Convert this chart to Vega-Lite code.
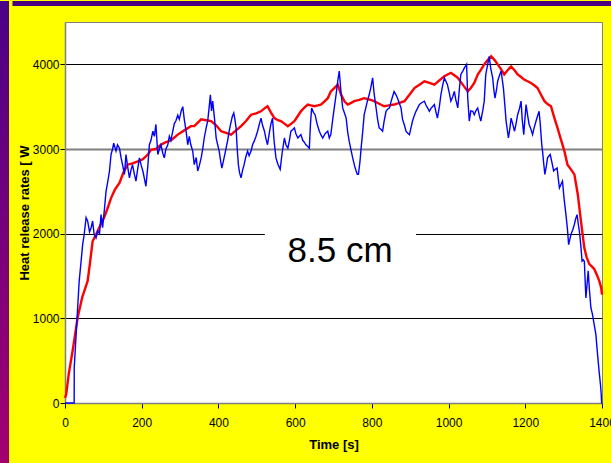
{
  "$schema": "https://vega.github.io/schema/vega-lite/v6.json",
  "padding": 0,
  "background": "#FFFF00",
  "spacing": 0,
  "config": {
    "view": {"stroke": null},
    "axis": {
      "labelFont": "Liberation Sans, Arial",
      "labelFontSize": 12,
      "labelColor": "#000000",
      "titleFont": "Liberation Sans, Arial",
      "titleFontSize": 13,
      "titleFontWeight": "bold",
      "titleColor": "#000000",
      "domainColor": "#808080",
      "domainWidth": 1.5,
      "tickColor": "#000000",
      "tickSize": 5
    }
  },
  "datasets": {
    "red": [
      {"t":0,"v":60},{"t":3,"v":100},{"t":10,"v":350},{"t":20,"v":620},{"t":29,"v":890},{"t":33,"v":1010},{"t":45,"v":1250},{"t":59,"v":1440},{"t":65,"v":1650},{"t":72,"v":1910},{"t":81,"v":1990},{"t":92,"v":2100},{"t":102,"v":2190},{"t":111,"v":2300},{"t":120,"v":2420},{"t":130,"v":2520},{"t":142,"v":2600},{"t":152,"v":2720},{"t":163,"v":2815},{"t":176,"v":2830},{"t":190,"v":2855},{"t":203,"v":2880},{"t":216,"v":2935},{"t":224,"v":2990},{"t":237,"v":3000},{"t":250,"v":3050},{"t":263,"v":3080},{"t":276,"v":3100},{"t":294,"v":3170},{"t":311,"v":3220},{"t":328,"v":3270},{"t":337,"v":3270},{"t":355,"v":3350},{"t":368,"v":3340},{"t":381,"v":3330},{"t":394,"v":3280},{"t":407,"v":3210},{"t":420,"v":3190},{"t":433,"v":3170},{"t":446,"v":3220},{"t":459,"v":3270},{"t":472,"v":3330},{"t":485,"v":3405},{"t":498,"v":3420},{"t":511,"v":3445},{"t":520,"v":3480},{"t":528,"v":3505},{"t":537,"v":3430},{"t":546,"v":3365},{"t":555,"v":3340},{"t":563,"v":3330},{"t":572,"v":3300},{"t":581,"v":3270},{"t":590,"v":3300},{"t":598,"v":3330},{"t":607,"v":3390},{"t":615,"v":3445},{"t":624,"v":3490},{"t":633,"v":3525},{"t":641,"v":3515},{"t":650,"v":3505},{"t":659,"v":3515},{"t":667,"v":3525},{"t":676,"v":3560},{"t":685,"v":3600},{"t":693,"v":3680},{"t":702,"v":3720},{"t":711,"v":3760},{"t":720,"v":3640},{"t":729,"v":3560},{"t":737,"v":3525},{"t":746,"v":3545},{"t":754,"v":3565},{"t":767,"v":3580},{"t":780,"v":3600},{"t":793,"v":3585},{"t":806,"v":3565},{"t":819,"v":3535},{"t":832,"v":3505},{"t":845,"v":3515},{"t":858,"v":3525},{"t":872,"v":3545},{"t":885,"v":3565},{"t":898,"v":3640},{"t":911,"v":3720},{"t":924,"v":3760},{"t":937,"v":3800},{"t":950,"v":3780},{"t":963,"v":3760},{"t":976,"v":3810},{"t":989,"v":3860},{"t":1006,"v":3900},{"t":1015,"v":3870},{"t":1024,"v":3840},{"t":1037,"v":3760},{"t":1050,"v":3680},{"t":1058,"v":3720},{"t":1067,"v":3780},{"t":1076,"v":3880},{"t":1085,"v":3940},{"t":1093,"v":4000},{"t":1102,"v":4050},{"t":1111,"v":4095},{"t":1120,"v":4050},{"t":1128,"v":4000},{"t":1137,"v":3940},{"t":1145,"v":3880},{"t":1154,"v":3930},{"t":1163,"v":3975},{"t":1172,"v":3930},{"t":1180,"v":3880},{"t":1189,"v":3850},{"t":1197,"v":3820},{"t":1206,"v":3800},{"t":1215,"v":3780},{"t":1224,"v":3750},{"t":1232,"v":3720},{"t":1241,"v":3640},{"t":1250,"v":3565},{"t":1258,"v":3530},{"t":1267,"v":3505},{"t":1275,"v":3380},{"t":1284,"v":3250},{"t":1293,"v":3110},{"t":1302,"v":2975},{"t":1310,"v":2815},{"t":1319,"v":2760},{"t":1328,"v":2700},{"t":1337,"v":2460},{"t":1345,"v":2150},{"t":1354,"v":1830},{"t":1360,"v":1720},{"t":1367,"v":1640},{"t":1374,"v":1610},{"t":1380,"v":1580},{"t":1387,"v":1510},{"t":1393,"v":1440},{"t":1398,"v":1360},{"t":1400,"v":1280}
    ],
    "blue": [
      {"t":0,"v":0},{"t":23.9,"v":0},{"t":24.1,"v":417},{"t":29,"v":810},{"t":33,"v":1125},{"t":37,"v":1440},{"t":42,"v":1675},{"t":46,"v":1870},{"t":50,"v":1990},{"t":55,"v":2190},{"t":59,"v":2150},{"t":64,"v":2020},{"t":68,"v":2070},{"t":72,"v":2150},{"t":76,"v":1990},{"t":81,"v":1950},{"t":85,"v":2030},{"t":90,"v":2000},{"t":94,"v":2225},{"t":98,"v":2070},{"t":103,"v":2300},{"t":107,"v":2500},{"t":111,"v":2600},{"t":116,"v":2740},{"t":120,"v":2935},{"t":124,"v":3000},{"t":127,"v":3070},{"t":133,"v":2975},{"t":137,"v":3050},{"t":142,"v":3010},{"t":146,"v":2900},{"t":150,"v":2815},{"t":155,"v":2700},{"t":159,"v":2935},{"t":163,"v":2800},{"t":168,"v":2660},{"t":172,"v":2750},{"t":176,"v":2815},{"t":181,"v":2700},{"t":185,"v":2620},{"t":190,"v":2780},{"t":194,"v":2895},{"t":199,"v":2800},{"t":203,"v":2740},{"t":207,"v":2650},{"t":211,"v":2560},{"t":216,"v":2800},{"t":220,"v":3050},{"t":224,"v":3100},{"t":229,"v":3210},{"t":233,"v":3150},{"t":237,"v":3290},{"t":242,"v":2935},{"t":246,"v":3000},{"t":250,"v":3050},{"t":255,"v":2950},{"t":259,"v":2895},{"t":263,"v":3000},{"t":268,"v":3050},{"t":272,"v":3150},{"t":276,"v":3100},{"t":281,"v":3210},{"t":285,"v":3300},{"t":289,"v":3330},{"t":294,"v":3400},{"t":298,"v":3350},{"t":303,"v":3450},{"t":307,"v":3500},{"t":311,"v":3350},{"t":316,"v":3200},{"t":320,"v":3050},{"t":324,"v":3150},{"t":328,"v":3050},{"t":333,"v":2975},{"t":337,"v":2815},{"t":342,"v":2900},{"t":346,"v":2740},{"t":350,"v":2800},{"t":355,"v":2895},{"t":359,"v":3000},{"t":363,"v":3130},{"t":368,"v":3250},{"t":372,"v":3330},{"t":376,"v":3500},{"t":379,"v":3640},{"t":382,"v":3450},{"t":385,"v":3565},{"t":390,"v":3350},{"t":394,"v":3130},{"t":398,"v":3050},{"t":402,"v":2975},{"t":406,"v":2850},{"t":409,"v":2775},{"t":415,"v":2900},{"t":420,"v":3010},{"t":424,"v":3100},{"t":428,"v":3210},{"t":432,"v":3300},{"t":436,"v":3380},{"t":440,"v":3425},{"t":443,"v":3350},{"t":446,"v":3250},{"t":449,"v":3000},{"t":452,"v":2815},{"t":455,"v":2720},{"t":459,"v":2660},{"t":463,"v":2750},{"t":467,"v":2815},{"t":471,"v":2900},{"t":476,"v":2975},{"t":480,"v":2920},{"t":485,"v":2975},{"t":489,"v":3050},{"t":493,"v":3090},{"t":498,"v":3150},{"t":502,"v":3210},{"t":507,"v":3300},{"t":511,"v":3365},{"t":515,"v":3280},{"t":520,"v":3210},{"t":524,"v":3120},{"t":528,"v":3050},{"t":533,"v":3200},{"t":537,"v":3300},{"t":541,"v":3365},{"t":545,"v":3100},{"t":550,"v":2895},{"t":555,"v":2820},{"t":561,"v":2760},{"t":566,"v":2950},{"t":572,"v":3130},{"t":576,"v":3050},{"t":581,"v":3010},{"t":585,"v":3100},{"t":589,"v":3210},{"t":594,"v":3230},{"t":598,"v":3250},{"t":602,"v":3180},{"t":607,"v":3130},{"t":611,"v":3150},{"t":615,"v":3170},{"t":620,"v":3100},{"t":624,"v":3080},{"t":628,"v":3050},{"t":633,"v":3030},{"t":637,"v":3010},{"t":640,"v":3300},{"t":643,"v":3485},{"t":648,"v":3430},{"t":652,"v":3405},{"t":657,"v":3300},{"t":663,"v":3210},{"t":668,"v":3160},{"t":672,"v":3130},{"t":678,"v":3180},{"t":685,"v":3210},{"t":689,"v":3130},{"t":693,"v":3170},{"t":698,"v":3350},{"t":702,"v":3485},{"t":707,"v":3650},{"t":711,"v":3800},{"t":715,"v":3920},{"t":720,"v":3650},{"t":724,"v":3485},{"t":729,"v":3420},{"t":733,"v":3365},{"t":737,"v":3200},{"t":741,"v":3090},{"t":746,"v":2980},{"t":750,"v":2895},{"t":755,"v":2800},{"t":759,"v":2740},{"t":762,"v":2700},{"t":765,"v":2700},{"t":769,"v":2850},{"t":772,"v":3010},{"t":776,"v":3200},{"t":780,"v":3405},{"t":785,"v":3500},{"t":789,"v":3580},{"t":793,"v":3640},{"t":797,"v":3720},{"t":802,"v":3840},{"t":806,"v":3650},{"t":811,"v":3485},{"t":815,"v":3350},{"t":819,"v":3250},{"t":824,"v":3230},{"t":828,"v":3210},{"t":832,"v":3330},{"t":837,"v":3445},{"t":841,"v":3470},{"t":846,"v":3485},{"t":850,"v":3560},{"t":854,"v":3620},{"t":858,"v":3680},{"t":863,"v":3640},{"t":867,"v":3600},{"t":871,"v":3550},{"t":876,"v":3485},{"t":880,"v":3350},{"t":885,"v":3280},{"t":889,"v":3210},{"t":893,"v":3190},{"t":898,"v":3170},{"t":902,"v":3250},{"t":906,"v":3330},{"t":911,"v":3400},{"t":915,"v":3445},{"t":919,"v":3480},{"t":924,"v":3525},{"t":928,"v":3540},{"t":933,"v":3555},{"t":937,"v":3565},{"t":941,"v":3520},{"t":946,"v":3480},{"t":950,"v":3445},{"t":954,"v":3480},{"t":958,"v":3500},{"t":963,"v":3525},{"t":967,"v":3440},{"t":971,"v":3365},{"t":976,"v":3500},{"t":980,"v":3640},{"t":984,"v":3740},{"t":989,"v":3840},{"t":993,"v":3800},{"t":997,"v":3760},{"t":1002,"v":3660},{"t":1006,"v":3565},{"t":1011,"v":3620},{"t":1015,"v":3680},{"t":1019,"v":3580},{"t":1024,"v":3485},{"t":1028,"v":3700},{"t":1032,"v":3880},{"t":1037,"v":3920},{"t":1041,"v":3955},{"t":1047,"v":4000},{"t":1050,"v":3600},{"t":1054,"v":3330},{"t":1058,"v":3450},{"t":1063,"v":3445},{"t":1067,"v":3405},{"t":1071,"v":3450},{"t":1076,"v":3485},{"t":1080,"v":3400},{"t":1084,"v":3330},{"t":1089,"v":3450},{"t":1093,"v":3565},{"t":1097,"v":3880},{"t":1102,"v":4000},{"t":1106,"v":4095},{"t":1110,"v":3950},{"t":1115,"v":3840},{"t":1118,"v":3700},{"t":1121,"v":3600},{"t":1125,"v":3700},{"t":1128,"v":3800},{"t":1132,"v":3860},{"t":1137,"v":3920},{"t":1140,"v":3820},{"t":1143,"v":3720},{"t":1147,"v":3500},{"t":1150,"v":3330},{"t":1153,"v":3230},{"t":1156,"v":3130},{"t":1160,"v":3250},{"t":1163,"v":3365},{"t":1167,"v":3300},{"t":1172,"v":3210},{"t":1176,"v":3300},{"t":1180,"v":3405},{"t":1185,"v":3480},{"t":1189,"v":3565},{"t":1192,"v":3350},{"t":1196,"v":3170},{"t":1199,"v":3350},{"t":1202,"v":3525},{"t":1206,"v":3400},{"t":1210,"v":3290},{"t":1215,"v":3230},{"t":1219,"v":3170},{"t":1223,"v":3250},{"t":1228,"v":3330},{"t":1232,"v":3390},{"t":1236,"v":3445},{"t":1239,"v":3300},{"t":1241,"v":3170},{"t":1243,"v":3050},{"t":1245,"v":2975},{"t":1248,"v":2830},{"t":1251,"v":2700},{"t":1255,"v":2800},{"t":1258,"v":2895},{"t":1262,"v":2920},{"t":1265,"v":2935},{"t":1270,"v":2830},{"t":1274,"v":2740},{"t":1278,"v":2760},{"t":1283,"v":2775},{"t":1286,"v":2650},{"t":1289,"v":2540},{"t":1293,"v":2580},{"t":1297,"v":2620},{"t":1301,"v":2420},{"t":1306,"v":2225},{"t":1310,"v":2050},{"t":1313,"v":1870},{"t":1316,"v":1930},{"t":1319,"v":1990},{"t":1324,"v":2050},{"t":1328,"v":2110},{"t":1331,"v":2170},{"t":1335,"v":2225},{"t":1338,"v":2120},{"t":1341,"v":2030},{"t":1345,"v":1850},{"t":1348,"v":1675},{"t":1351,"v":1690},{"t":1354,"v":1675},{"t":1356,"v":1450},{"t":1358,"v":1240},{"t":1361,"v":1400},{"t":1364,"v":1560},{"t":1367,"v":1350},{"t":1371,"v":1125},{"t":1375,"v":1050},{"t":1378,"v":970},{"t":1381,"v":890},{"t":1384,"v":810},{"t":1387,"v":650},{"t":1390,"v":495},{"t":1393,"v":350},{"t":1396,"v":220},{"t":1398,"v":100},{"t":1398.8,"v":25},{"t":1399.2,"v":0},{"t":1400,"v":0}
    ],
    "label": [{"text": "8.5 cm"}],
    "band": [{"part": "strip"}]
  },
  "hconcat": [
    {
      "width": 9,
      "height": 463,
      "data": {"name": "band"},
      "mark": {"type": "rect", "color": {"gradient": "linear", "x1": 0, "y1": 0, "x2": 0, "y2": 1, "stops": [{"offset": 0, "color": "#4A0088"}, {"offset": 1, "color": "#A3006F"}]}}
    },
    {
      "spacing": 15,
      "vconcat": [
        {
          "width": 547,
          "height": 5,
          "data": {"name": "band"},
          "mark": {"type": "rect", "color": "#4B0082"},
          "encoding": {
            "y": {"field": "part", "type": "nominal", "scale": {"paddingInner": 0, "paddingOuter": 0},
                  "axis": {"title": null, "labels": false, "domain": false, "grid": false, "ticks": true,
                           "tickSize": 53, "tickWidth": 5, "tickColor": "#4B0082", "tickCap": "butt"}}
          }
        },
        {
          "width": 537,
          "height": 381,
          "view": {"fill": "#FFFFFF", "stroke": "#808080", "strokeWidth": 1},
          "layer": [
            {
              "data": {"name": "label"},
              "mark": {"type": "rect", "fill": "#FFFFFF", "stroke": null},
              "encoding": {
                "x": {"datum": 521, "type": "quantitative", "scale": {"domain": [0, 1400], "nice": false},
                      "axis": {"title": "Time [s]", "format": "d", "values": [0,200,400,600,800,1000,1200,1400], "grid": false, "labelPadding": 9, "titlePadding": 10, "labelFlush": false}},
                "x2": {"datum": 915},
                "y": {"datum": 1550, "type": "quantitative", "scale": {"domain": [0, 4500], "nice": false},
                      "axis": {"title": "Heat release rates [ W", "format": "d", "values": [0,1000,2000,3000,4000], "grid": true,
                               "titlePadding": 1, "labelPadding": 1,
                               "gridColor": {"condition": {"test": "datum.value === 3000", "value": "#808080"}, "value": "#000000"},
                               "gridWidth": {"condition": {"test": "datum.value === 3000", "value": 2}, "value": 1}}},
                "y2": {"datum": 2300}
              }
            },
            {
              "data": {"name": "red"},
              "mark": {"type": "line", "color": "#FF0000", "strokeWidth": 2.4},
              "encoding": {
                "x": {"field": "t", "type": "quantitative"},
                "y": {"field": "v", "type": "quantitative"}
              }
            },
            {
              "data": {"name": "blue"},
              "mark": {"type": "line", "color": "#0000FF", "strokeWidth": 1.4},
              "encoding": {
                "x": {"field": "t", "type": "quantitative"},
                "y": {"field": "v", "type": "quantitative"}
              }
            },
            {
              "data": {"name": "label"},
              "mark": {"type": "text", "font": "Liberation Sans, Arial", "fontSize": 35, "color": "#000000", "align": "center", "baseline": "alphabetic"},
              "encoding": {
                "x": {"datum": 717, "type": "quantitative"},
                "y": {"datum": 1664, "type": "quantitative"},
                "text": {"field": "text"}
              }
            }
          ]
        }
      ]
    }
  ]
}
